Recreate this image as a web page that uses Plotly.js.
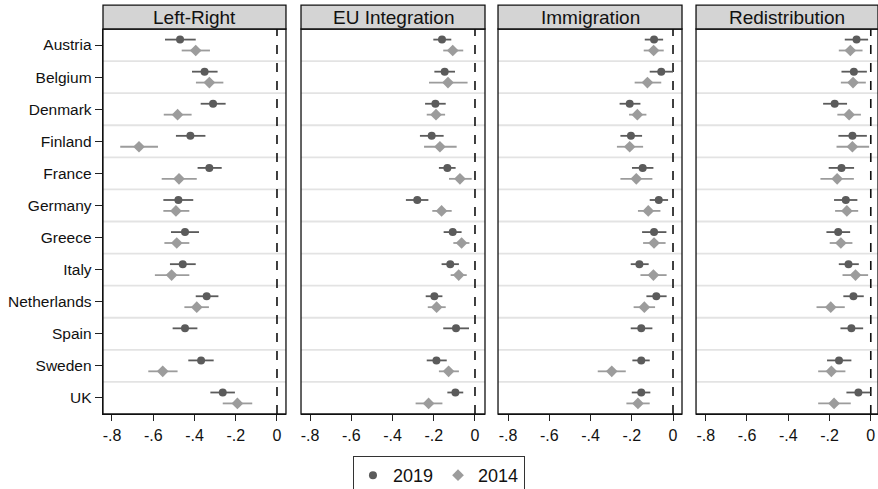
<!DOCTYPE html>
<html>
<head>
<meta charset="utf-8">
<script src="https://cdn.plot.ly/plotly-3.0.1.min.js"></script>
<style>html,body{margin:0;padding:0;background:#fff;}#chart{width:878px;height:489px;}</style>
</head>
<body>
<div id="chart"></div>
<script>
// ---- data ----
const countries = ["Austria","Belgium","Denmark","Finland","France","Germany","Greece","Italy","Netherlands","Spain","Sweden","UK"];
const panels = ["Left-Right","EU Integration","Immigration","Redistribution"];
const xTickVals = [-0.8,-0.6,-0.4,-0.2,0];
const xTickText = ["-.8","-.6","-.4","-.2","0"];

// Left-Right
const lrEst19 = [-0.470,-0.351,-0.310,-0.420,-0.328,-0.478,-0.446,-0.457,-0.341,-0.446,-0.368,-0.263];
const lrLo19  = [-0.543,-0.412,-0.370,-0.490,-0.385,-0.551,-0.514,-0.519,-0.394,-0.506,-0.430,-0.323];
const lrHi19  = [-0.394,-0.288,-0.249,-0.347,-0.268,-0.406,-0.378,-0.394,-0.284,-0.386,-0.307,-0.204];
const lrEst14 = [-0.394,-0.328,-0.482,-0.669,-0.475,-0.490,-0.486,-0.511,-0.389,null,-0.554,-0.192];
const lrLo14  = [-0.462,-0.393,-0.549,-0.760,-0.559,-0.551,-0.546,-0.592,-0.449,null,-0.624,-0.263];
const lrHi14  = [-0.325,-0.260,-0.414,-0.577,-0.389,-0.425,-0.425,-0.425,-0.330,null,-0.482,-0.120];

// EU Integration
const euEst19 = [-0.160,-0.147,-0.192,-0.210,-0.134,-0.280,-0.108,-0.120,-0.197,-0.092,-0.187,-0.095];
const euLo19  = [-0.202,-0.197,-0.242,-0.267,-0.175,-0.335,-0.152,-0.162,-0.239,-0.154,-0.234,-0.134];
const euHi19  = [-0.115,-0.097,-0.142,-0.152,-0.094,-0.226,-0.065,-0.078,-0.158,-0.029,-0.137,-0.057];
const euEst14 = [-0.108,-0.131,-0.189,-0.170,-0.073,-0.162,-0.065,-0.079,-0.186,null,-0.128,-0.225];
const euLo14  = [-0.154,-0.223,-0.234,-0.247,-0.126,-0.207,-0.105,-0.118,-0.229,null,-0.175,-0.288];
const euHi14  = [-0.057,-0.036,-0.145,-0.089,-0.016,-0.113,-0.027,-0.040,-0.142,null,-0.078,-0.158];

// Immigration
const imEst19 = [-0.092,-0.057,-0.210,-0.204,-0.147,-0.069,-0.092,-0.163,-0.081,-0.154,-0.154,-0.154];
const imLo19  = [-0.137,-0.113,-0.259,-0.255,-0.199,-0.113,-0.150,-0.205,-0.129,-0.205,-0.197,-0.200];
const imHi19  = [-0.048, 0.000,-0.158,-0.150,-0.095,-0.024,-0.032,-0.118,-0.031,-0.100,-0.113,-0.110];
const imEst14 = [-0.094,-0.124,-0.173,-0.210,-0.178,-0.120,-0.092,-0.095,-0.139,null,-0.297,-0.170];
const imLo14  = [-0.142,-0.186,-0.213,-0.272,-0.255,-0.170,-0.145,-0.158,-0.191,null,-0.365,-0.226];
const imHi14  = [-0.045,-0.057,-0.129,-0.145,-0.100,-0.061,-0.036,-0.031,-0.087,null,-0.229,-0.113];

// Redistribution
const reEst19 = [-0.069,-0.082,-0.175,-0.089,-0.142,-0.121,-0.158,-0.108,-0.084,-0.094,-0.154,-0.060];
const reLo19  = [-0.126,-0.142,-0.231,-0.157,-0.204,-0.178,-0.215,-0.155,-0.133,-0.147,-0.212,-0.118];
const reHi19  = [-0.013,-0.019,-0.115,-0.019,-0.081,-0.065,-0.100,-0.058,-0.034,-0.037,-0.094,-0.002];
const reEst14 = [-0.099,-0.086,-0.105,-0.089,-0.163,-0.116,-0.145,-0.074,-0.194,null,-0.191,-0.178];
const reLo14  = [-0.155,-0.145,-0.162,-0.166,-0.244,-0.173,-0.199,-0.137,-0.263,null,-0.255,-0.255];
const reHi14  = [-0.040,-0.024,-0.048,-0.008,-0.082,-0.061,-0.089,-0.013,-0.126,null,-0.123,-0.097];

// ---- build ----
const panelData = [
  [lrEst19,lrLo19,lrHi19,lrEst14,lrLo14,lrHi14],
  [euEst19,euLo19,euHi19,euEst14,euLo14,euHi14],
  [imEst19,imLo19,imHi19,imEst14,imLo14,imHi14],
  [reEst19,reLo19,reHi19,reEst14,reLo14,reHi14]
];
const c19 = "#5b5b5b", c14 = "#9c9c9c";
const dodge = 0.17;
const FONT = "Liberation Sans, Arial, sans-serif";

const traces = [];
panelData.forEach((p, k) => {
  const xa = k === 0 ? "x" : "x" + (k + 1);
  const [e19,l19,h19,e14,l14,h14] = p;
  traces.push({
    type: "scatter", mode: "markers", xaxis: xa, yaxis: "y",
    name: "2019", legendgroup: "2019", showlegend: k === 0,
    x: e19, y: countries.map((c, i) => i - dodge),
    marker: {symbol: "circle", size: 8, color: c19},
    error_x: {type: "data", symmetric: false,
      array: e19.map((v, i) => v == null ? null : h19[i] - v),
      arrayminus: e19.map((v, i) => v == null ? null : v - l19[i]),
      width: 0, thickness: 1.8, color: c19},
    hoverinfo: "skip"
  });
  traces.push({
    type: "scatter", mode: "markers", xaxis: xa, yaxis: "y",
    name: "2014", legendgroup: "2014", showlegend: k === 0,
    x: e14, y: countries.map((c, i) => i + dodge),
    marker: {symbol: "diamond", size: 9, color: c14},
    error_x: {type: "data", symmetric: false,
      array: e14.map((v, i) => v == null ? null : h14[i] - v),
      arrayminus: e14.map((v, i) => v == null ? null : v - l14[i]),
      width: 0, thickness: 1.8, color: c14},
    hoverinfo: "skip"
  });
});

const domains = [[0, 0.2361], [0.2555, 0.4929], [0.5097, 0.7471], [0.7652, 1]];
const ranges = [[-0.8436, 0.0436], [-0.8436, 0.0485], [-0.8485, 0.0436], [-0.847, 0.035]];

const layout = {
  width: 878, height: 489,
  margin: {l: 103, r: 0, t: 29, b: 75, pad: 0, autoexpand: false},
  paper_bgcolor: "#fff", plot_bgcolor: "#fff",
  font: {family: FONT, color: "#111"},
  showlegend: true,
  legend: {orientation: "h", x: 0.4335, xanchor: "center", y: -0.109, yanchor: "top",
    bordercolor: "#333", borderwidth: 1, bgcolor: "#fff",
    font: {size: 18, family: FONT, color: "#111"}, itemwidth: 30, tracegroupgap: 0},
  yaxis: {
    range: [countries.length - 0.5, -0.5], tickvals: countries.map((c, i) => i), ticktext: countries,
    ticks: "outside", ticklen: 7, tickcolor: "#222", tickwidth: 1,
    showgrid: false, zeroline: false, showline: true, linecolor: "#111", linewidth: 1.3,
    tickfont: {size: 15.5, family: FONT, color: "#111"}, anchor: "x", fixedrange: true,
    automargin: false
  },
  shapes: [], annotations: []
};

panels.forEach((t, k) => {
  const key = k === 0 ? "xaxis" : "xaxis" + (k + 1);
  const xr = k === 0 ? "x" : "x" + (k + 1);
  layout[key] = {
    domain: domains[k], range: ranges[k], anchor: "y",
    tickvals: xTickVals, ticktext: xTickText,
    ticks: "outside", ticklen: 6, tickcolor: "#222", tickwidth: 1,
    showgrid: false, zeroline: false, showline: true, linecolor: "#111", linewidth: 1.3,
    tickfont: {size: 16, family: FONT, color: "#111"}, fixedrange: true, automargin: false
  };
  // row separators
  for (let i = 0; i < countries.length - 1; i++) {
    layout.shapes.push({type: "line", layer: "below", xref: xr + " domain", yref: "y",
      x0: 0, x1: 1, y0: i + 0.5, y1: i + 0.5, line: {color: "#e3e3e3", width: 1.8}});
  }
  // zero reference line
  layout.shapes.push({type: "line", layer: "below", xref: xr, yref: "paper",
    x0: 0, x1: 0, y0: 0, y1: 1, line: {color: "#111", width: 1.6, dash: "dash"}});
  // panel frame
  layout.shapes.push({type: "rect", layer: "above", xref: xr + " domain", yref: "paper",
    x0: 0, x1: 1, y0: 0, y1: 1, line: {color: "#111", width: 1.3}});
  // strip header
  layout.shapes.push({type: "rect", layer: "above", xref: xr + " domain", yref: "paper",
    x0: 0, x1: 1, y0: 1, y1: 1.062, fillcolor: "#d4d4d4", line: {color: "#111", width: 1.3}});
  layout.annotations.push({text: t, xref: xr + " domain", yref: "paper", x: 0.5, y: 1.031,
    xanchor: "center", yanchor: "middle", showarrow: false,
    font: {size: 19, family: FONT, color: "#111"}});
});

Plotly.newPlot("chart", traces, layout, {displayModeBar: false, staticPlot: true});
</script>
</body>
</html>
